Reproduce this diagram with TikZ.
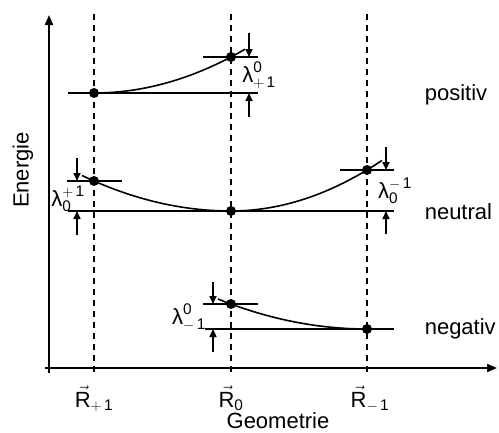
\documentclass[tikz,border=0pt]{standalone}
\usepackage{fontspec}
\setmainfont{Liberation Sans}
\usetikzlibrary{arrows.meta}

\begin{document}
\begin{tikzpicture}[x=1pt, y=-1pt, line width=1.6pt,
	every node/.style={font=\fontsize{22}{26}\selectfont, inner sep=1pt},
	dot/.style={circle, fill, inner sep=0pt, minimum size=10pt},
	guide/.style={dash pattern=on 6pt off 5pt},
	gap/.style={-{Triangle[length=8pt, width=7pt]}},
	axis/.style={line width=2pt, -{Triangle[length=10pt, width=8pt]}}]
	\useasboundingbox (0,0) rectangle (499,432);
	% axes and geometries
	\draw[axis] (49,373) -- (49,15);
	\draw[axis] (45,368) -- (497,368);
	\foreach \gx in {94,231,367} \draw[guide] (\gx,14) -- (\gx,373);
	\node[rotate=90] (energie) at (23,170) {Energie};
	\node[anchor=base, inner sep=0pt] (geometrie) at (278,428) {Geometrie};
	\node[anchor=base, inner sep=0pt] (rp) at (94,407) {$\vec{\mathrm{R}}_{+\,\mathrm{1}}$};
	\node[anchor=base, inner sep=0pt] (rz) at (231,407) {$\vec{\mathrm{R}}_{\mathrm{0}}$};
	\node[anchor=base, inner sep=0pt] (rm) at (370,407) {$\vec{\mathrm{R}}_{-\,\mathrm{1}}$};
	% positiv
	\draw (68,93) -- (258,93);
	\draw (203,57) -- (258,57);
	\draw plot[domain=94:245, samples=40] (\x, {93-0.192*((\x-94)/10)^2});
	\node[dot] (pa) at (94,93) {};
	\node[dot] (pb) at (231,57) {};
	\draw[gap] (249,33) -- (249,57);
	\draw[gap] (249,117) -- (249,93);
	\node (lpos) at (259,75) {$\mbox{λ}^{\mathrm{0}}_{+\,\mathrm{1}}$};
	\node[anchor=base west] (pos) at (423,100) {positiv};
	% neutral
	\draw (68,211) -- (394,211);
	\draw (67,181) -- (122,181);
	\draw (340,170) -- (394,170);
	\draw plot[domain=82:231, samples=40] (\x, {211-0.16*((\x-231)/10)^2});
	\draw plot[domain=231:382, samples=40] (\x, {211-0.222*((\x-231)/10)^2});
	\node[dot] (na) at (94,181) {};
	\node[dot] (nb) at (231,211) {};
	\node[dot] (nc) at (367,170) {};
	\draw[gap] (77,158) -- (77,181);
	\draw[gap] (77,235) -- (77,211);
	\draw[gap] (386,147) -- (386,170);
	\draw[gap] (386,234) -- (386,211);
	\node (lneul) at (68,199) {$\mbox{λ}_{\mathrm{0}}^{+\,\mathrm{1}}$};
	\node (lneur) at (395,191) {$\mbox{λ}_{\mathrm{0}}^{-\,\mathrm{1}}$};
	\node[anchor=base west] (neu) at (423,219) {neutral};
	% negativ
	\draw (205,329) -- (394,329);
	\draw (203,304) -- (258,304);
	\draw plot[domain=218:367, samples=40] (\x, {329-0.135*((\x-367)/10)^2});
	\node[dot] (mb) at (231,304) {};
	\node[dot] (mc) at (367,329) {};
	\draw[gap] (213,282) -- (213,304);
	\draw[gap] (213,352) -- (213,329);
	\node (lneg) at (189,317) {$\mbox{λ}^{\mathrm{0}}_{-\,\mathrm{1}}$};
	\node[anchor=base west] (neg) at (423,334) {negativ};
\end{tikzpicture}
\end{document}
